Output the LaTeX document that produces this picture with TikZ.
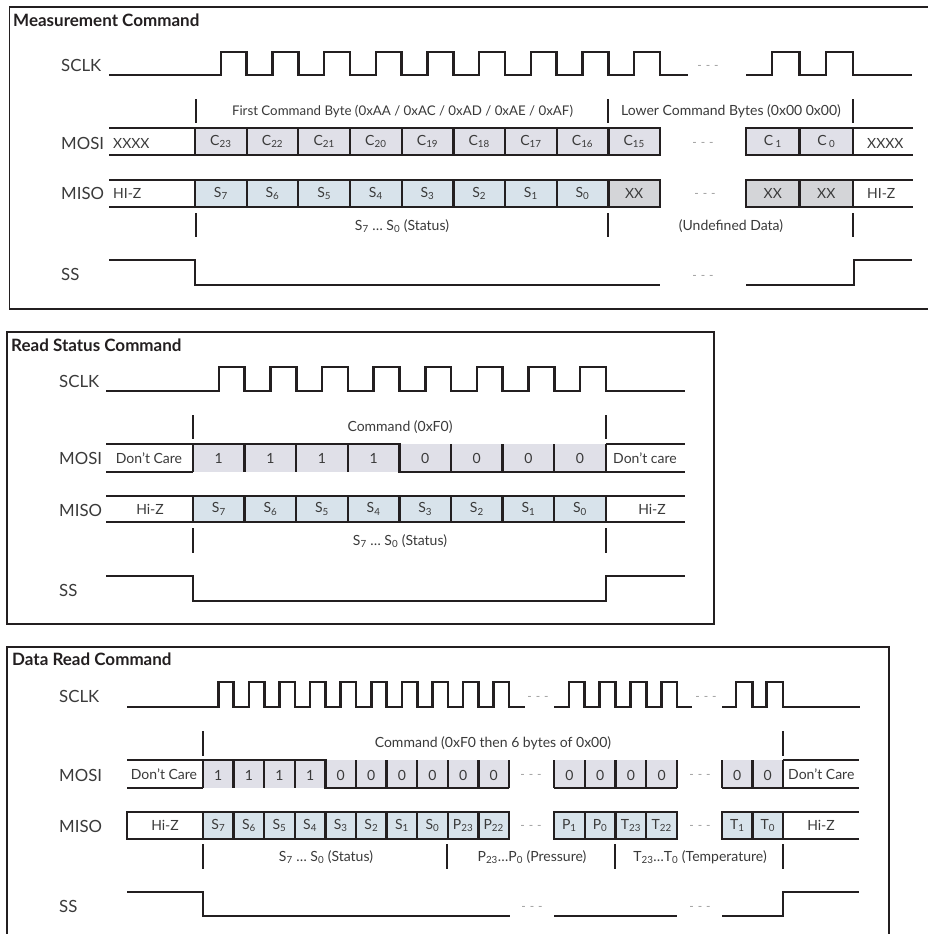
\documentclass[tikz,border=0pt]{standalone}
\usepackage{fontspec}
\setmainfont{Lato}
\definecolor{ink}{HTML}{231F20}
\definecolor{txt}{HTML}{3A3A3A}
\definecolor{mosifill}{HTML}{E0E0E8}
\definecolor{misofill}{HTML}{D8E3EB}
\definecolor{xxfill}{HTML}{D4D5D8}
\definecolor{dotgray}{HTML}{9A9A9A}
\begin{document}
\begin{tikzpicture}[x=1pt,y=-1pt,
  wave/.style={draw=ink,line width=2.6pt,line join=miter},
  thin/.style={draw=ink,line width=1.8pt},
  frame/.style={draw=ink,line width=1.7pt},
  ticky/.style={draw=ink,line width=1.8pt},
  sig/.style={font=\fontsize{16.8}{18}\selectfont,text=txt,anchor=west,inner sep=0},
  ttl/.style={font=\bfseries\fontsize{17}{18}\selectfont,text=ink,anchor=west,inner sep=0},
  note/.style={font=\fontsize{14}{15}\selectfont,text=txt,inner sep=0},
  celltxt/.style={font=\fontsize{14}{15}\selectfont,text=txt},
  dots/.style={font=\fontsize{12}{13}\selectfont,text=dotgray,inner sep=0},
  cellbox/.style={draw=ink,line width=2.3pt,inner sep=0,celltxt},
  mcell/.style={cellbox,fill=mosifill},
  scell/.style={cellbox,fill=misofill},
  xcell/.style={cellbox,fill=xxfill}]
\useasboundingbox (0,0) rectangle (928,934);
\clip (0,0) rectangle (928,934);
\fill[white] (0,0) rectangle (928,934);

% ================= Section 1: Measurement Command =================
\draw[frame] (940,7) -- (9.5,7) -- (9.5,309) -- (940,309);
\node[ttl] (t1) at (13,20) {Measurement Command};
\node[sig] (s1clk) at (61,65) {SCLK};
\node[sig] (s1mosi) at (61,143) {MOSI};
\node[sig] (s1miso) at (61,193) {MISO};
\node[sig] (s1ss) at (61,274) {SS};

% SCLK
\draw[wave] (109,75) \foreach \i in {0,...,8} {
  -- ({195+\i*51.67+25.8},75) -- ({195+\i*51.67+25.8},52)
  -- ({195+(\i+1)*51.67},52) -- ({195+(\i+1)*51.67},75) } -- (688,75);
\draw[wave] (746,75) -- (772,75) -- (772,52) -- (799.5,52) -- (799.5,75)
  -- (826,75) -- (826,52) -- (853,52) -- (853,75) -- (912,75);
\node[dots] (d1a) at (708,67) {-\,\,-\,\,-};

% command labels
\draw[ticky] (196,99) -- (196,123);
\draw[ticky] (608,99) -- (608,123);
\draw[ticky] (853,99) -- (853,123);
\node[note,font=\fontsize{13.3}{14}\selectfont] (n1a) at (402.5,111) {First Command Byte (0xAA / 0xAC / 0xAD / 0xAE / 0xAF)};
\node[note] (n1b) at (731,111) {Lower Command Bytes (0x00 0x00)};

% MOSI
\draw[thin] (109,128) -- (195,128);
\draw[thin] (109,155) -- (195,155);
\node[note,anchor=west] (x1a) at (113,143) {XXXX};
\foreach \n [count=\i from 0] in {23,22,21,20,19,18,17,16,15}
  \node[mcell,minimum width=51.67pt,minimum height=27pt] (m1c\n) at ({195+(\i+0.5)*51.67},141.5) {C\textsubscript{\n}};
\node[mcell,minimum width=53.5pt,minimum height=27pt] (m1c1) at (772.75,141.5) {C\,\textsubscript{1}};
\node[mcell,minimum width=53.5pt,minimum height=27pt] (m1c0) at (826.25,141.5) {C\,\textsubscript{0}};
\draw[thin] (853,128) -- (913,128);
\draw[thin] (853,155) -- (913,155);
\node[note,anchor=west] (x1b) at (867,143) {XXXX};
\node[dots] (d1b) at (703,144) {-\,\,-\,\,-};

% MISO
\draw[thin] (109,180) -- (195,180);
\draw[thin] (109,207) -- (195,207);
\node[note,anchor=west] (h1a) at (113,193) {HI-Z};
\foreach \n [count=\i from 0] in {7,6,5,4,3,2,1,0}
  \node[scell,minimum width=51.67pt,minimum height=27pt] (m1s\n) at ({195+(\i+0.5)*51.67},193.5) {S\textsubscript{\n}};
\node[xcell,minimum width=51.67pt,minimum height=27pt] (m1x15) at ({195+8.5*51.67},193.5) {XX};
\node[xcell,minimum width=53.5pt,minimum height=27pt] (m1x1) at (772.75,193.5) {XX};
\node[xcell,minimum width=53.5pt,minimum height=27pt] (m1x0) at (826.25,193.5) {XX};
\draw[thin] (853,180) -- (913,180);
\draw[thin] (853,207) -- (913,207);
\node[note,anchor=west] (h1b) at (867,193) {HI-Z};
\node[dots] (d1c) at (705,195) {-\,\,-\,\,-};

% status labels
\draw[ticky] (196,213) -- (196,237);
\draw[ticky] (608,213) -- (608,237);
\draw[ticky] (853,213) -- (853,237);
\node[note] (n1c) at (402,226) {S\textsubscript{7} … S\textsubscript{0} (Status)};
\node[note] (n1d) at (731,226) {(Undefined Data)};

% SS
\draw[wave] (109,260) -- (195,260) -- (195,285) -- (660,285);
\draw[wave] (746,285) -- (854,285) -- (854,260) -- (912,260);
\node[dots] (d1d) at (703,277) {-\,\,-\,\,-};

% ================= Section 2: Read Status Command =================
\draw[frame] (7,332) rectangle (714,624);
\node[ttl] (t2) at (11,345) {Read Status Command};
\node[sig] (s2clk) at (59,381) {SCLK};
\node[sig] (s2mosi) at (59,458) {MOSI};
\node[sig] (s2miso) at (59,510) {MISO};
\node[sig] (s2ss) at (59,590) {SS};

\draw[wave] (106,391) \foreach \i in {0,...,7} {
  -- ({193+\i*51.6+25.8},391) -- ({193+\i*51.6+25.8},367)
  -- ({193+(\i+1)*51.6},367) -- ({193+(\i+1)*51.6},391) } -- (685,391);

\draw[ticky] (193,415) -- (193,439);
\draw[ticky] (606,415) -- (606,439);
\node[note] (n2a) at (400,427) {Command (0xF0)};

% MOSI
\fill[mosifill] (193,444) rectangle (605.8,472);
\foreach \n [count=\i from 0] in {1,1,1,1,0,0,0,0}
  \node[celltxt] (m2b\i) at ({193+(\i+0.5)*51.6},458) {\n};
\foreach \i in {1,2,3,5,6,7}
  \draw[wave,line width=2.3pt] ({193+\i*51.6},444) -- ({193+\i*51.6},472);
\draw[thin] (106,444) -- (193,444);
\draw[thin] (106,472) -- (193,472);
\draw[wave,line width=2.3pt] (193,472) -- (193,444) -- (399.4,444) -- (399.4,472) -- (605.8,472) -- (605.8,444);
\draw[thin] (605.8,444) -- (685,444);
\draw[thin] (605.8,472) -- (685,472);
\node[note] (dc2a) at (149,458) {Don't Care};
\node[note,anchor=west] (dc2b) at (613,458) {Don't care};

% MISO
\draw[thin] (106,496) -- (193,496);
\draw[thin] (106,522) -- (193,522);
\node[note] (h2a) at (150,509) {Hi-Z};
\foreach \n [count=\i from 0] in {7,6,5,4,3,2,1,0}
  \node[scell,minimum width=51.6pt,minimum height=26pt] (m2s\n) at ({193+(\i+0.5)*51.6},509) {S\textsubscript{\n}};
\draw[thin] (605.8,496) -- (685,496);
\draw[thin] (605.8,522) -- (685,522);
\node[note] (h2b) at (652,509) {Hi-Z};

\draw[ticky] (193,528) -- (193,553);
\draw[ticky] (606,528) -- (606,553);
\node[note] (n2b) at (400,541) {S\textsubscript{7} … S\textsubscript{0} (Status)};

% SS
\draw[wave] (106,576) -- (193,576) -- (193,601) -- (606,601) -- (606,576) -- (685,576);

% ================= Section 3: Data Read Command =================
\draw[frame] (7,945) -- (7,647) -- (889,647) -- (889,945);
\node[ttl] (t3) at (12,659) {Data Read Command};
\node[sig] (s3clk) at (59,696) {SCLK};
\node[sig] (s3mosi) at (59,775) {MOSI};
\node[sig] (s3miso) at (59,826) {MISO};
\node[sig] (s3ss) at (59,906) {SS};

% SCLK
\draw[wave] (127,707) \foreach \i in {0,...,9} {
  -- ({203+\i*30.6+15.3},707) -- ({203+\i*30.6+15.3},682)
  -- ({203+(\i+1)*30.6},682) -- ({203+(\i+1)*30.6},707) } -- (525,707);
\draw[wave] (554,707) \foreach \i in {0,...,3} {
  -- ({554+\i*30.75+15},707) -- ({554+\i*30.75+15},682)
  -- ({554+(\i+1)*30.75},682) -- ({554+(\i+1)*30.75},707) } -- (692,707);
\draw[wave] (722,707) \foreach \i in {0,1} {
  -- ({722+\i*30.5+14},707) -- ({722+\i*30.5+14},682)
  -- ({722+(\i+1)*30.5},682) -- ({722+(\i+1)*30.5},707) } -- (860,707);
\node[dots] (d3a) at (538,698) {-\,\,-\,\,-};
\node[dots] (d3b) at (706,698) {-\,\,-\,\,-};

\draw[ticky] (203,731) -- (203,756);
\draw[ticky] (783,731) -- (783,756);
\node[note] (n3a) at (493,743) {Command (0xF0 then 6 bytes of 0x00)};

% MOSI
\fill[mosifill] (203,760) rectangle (509,788);
\fill[mosifill] (554,760) rectangle (677,788);
\fill[mosifill] (722,760) rectangle (783,788);
\foreach \n [count=\i from 0] in {1,1,1,1,0,0,0,0,0,0}
  \node[celltxt] (m3a\i) at ({203+(\i+0.5)*30.6},775) {\n};
\foreach \i in {0,...,3}
  \node[celltxt] (m3b\i) at ({554+(\i+0.5)*30.75},775) {0};
\foreach \i in {0,1}
  \node[celltxt] (m3c\i) at ({722+(\i+0.5)*30.5},775) {0};
\foreach \i in {1,2,3,5,6,7,8,9,10}
  \draw[wave,line width=2.3pt] ({203+\i*30.6},760) -- ({203+\i*30.6},788);
\foreach \i in {0,...,4}
  \draw[wave,line width=2.3pt] ({554+\i*30.75},760) -- ({554+\i*30.75},788);
\foreach \i in {0,1}
  \draw[wave,line width=2.3pt] ({722+\i*30.5},760) -- ({722+\i*30.5},788);
\draw[thin] (127,760) -- (203,760);
\draw[thin] (127,788) -- (203,788);
\draw[wave,line width=2.3pt] (203,788) -- (203,760) -- (325.4,760) -- (325.4,788) -- (509,788);
\draw[wave,line width=2.3pt] (554,788) -- (677,788);
\draw[wave,line width=2.3pt] (722,788) -- (783,788) -- (783,760);
\draw[thin] (783,760) -- (859,760);
\draw[thin] (783,788) -- (859,788);
\node[note] (dc3a) at (164,774) {Don't Care};
\node[note,anchor=west] (dc3b) at (788,774) {Don't Care};
\node[dots] (d3c) at (531,776) {-\,\,-\,\,-};
\node[dots] (d3d) at (700,776) {-\,\,-\,\,-};

% MISO
\draw[thin] (127,812) rectangle (203,839);
\node[note] (h3a) at (165,825) {Hi-Z};
\foreach \t [count=\i from 0] in {S\textsubscript{7},S\textsubscript{6},S\textsubscript{5},S\textsubscript{4},S\textsubscript{3},S\textsubscript{2},S\textsubscript{1},S\textsubscript{0},P\textsubscript{23},P\textsubscript{22}}
  \node[scell,minimum width=30.6pt,minimum height=27pt] (m3s\i) at ({203+(\i+0.5)*30.6},825.5) {\t};
\foreach \t [count=\i from 0] in {P\textsubscript{1},P\textsubscript{0},T\textsubscript{23},T\textsubscript{22}}
  \node[scell,minimum width=30.75pt,minimum height=27pt] (m3p\i) at ({554+(\i+0.5)*30.75},825.5) {\t};
\foreach \t [count=\i from 0] in {T\textsubscript{1},T\textsubscript{0}}
  \node[scell,minimum width=30.5pt,minimum height=27pt] (m3t\i) at ({722+(\i+0.5)*30.5},825.5) {\t};
\draw[thin] (783,812) -- (859,812);
\draw[thin] (783,839) -- (859,839);
\node[note] (h3b) at (821,825) {Hi-Z};
\node[dots] (d3e) at (531,827) {-\,\,-\,\,-};
\node[dots] (d3f) at (700,827) {-\,\,-\,\,-};

\draw[ticky] (203,844) -- (203,869);
\draw[ticky] (447,844) -- (447,869);
\draw[ticky] (615,844) -- (615,869);
\draw[ticky] (783,844) -- (783,869);
\node[note] (n3b) at (326,857) {S\textsubscript{7} … S\textsubscript{0} (Status)};
\node[note] (n3c) at (532,857) {P\textsubscript{23}…P\textsubscript{0} (Pressure)};
\node[note] (n3d) at (700,857) {T\textsubscript{23}…T\textsubscript{0} (Temperature)};

% SS
\draw[wave] (127,892) -- (203,892) -- (203,916) -- (510,916);
\draw[wave] (554,916) -- (677,916);
\draw[wave] (722,916) -- (783,916) -- (783,892) -- (859,892);
\node[dots] (d3g) at (532,908) {-\,\,-\,\,-};
\node[dots] (d3h) at (700,908) {-\,\,-\,\,-};
\end{tikzpicture}
\end{document}
